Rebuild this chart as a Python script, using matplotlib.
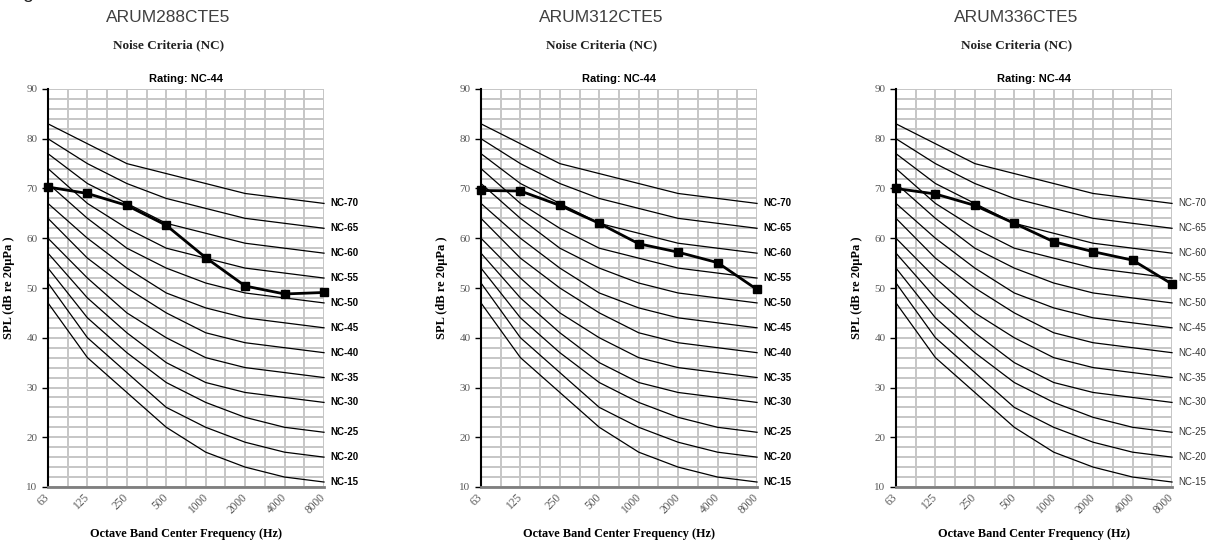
import matplotlib
matplotlib.use("Agg")
import matplotlib.pyplot as plt
import numpy as np

# ---- data ----
freq_labels = ["63", "125", "250", "500", "1000", "2000", "4000", "8000"]
nc_names = ["NC-15", "NC-20", "NC-25", "NC-30", "NC-35", "NC-40",
            "NC-45", "NC-50", "NC-55", "NC-60", "NC-65", "NC-70"]
nc_15 = [47, 36, 29, 22, 17, 14, 12, 11]
nc_20 = [51, 40, 33, 26, 22, 19, 17, 16]
nc_25 = [54, 44, 37, 31, 27, 24, 22, 21]
nc_30 = [57, 48, 41, 35, 31, 29, 28, 27]
nc_35 = [60, 52, 45, 40, 36, 34, 33, 32]
nc_40 = [64, 56, 50, 45, 41, 39, 38, 37]
nc_45 = [67, 60, 54, 49, 46, 44, 43, 42]
nc_50 = [71, 64, 58, 54, 51, 49, 48, 47]
nc_55 = [74, 67, 62, 58, 56, 54, 53, 52]
nc_60 = [77, 71, 67, 63, 61, 59, 58, 57]
nc_65 = [80, 75, 71, 68, 66, 64, 63, 62]
nc_70 = [83, 79, 75, 73, 71, 69, 68, 67]
nc_curves = [nc_15, nc_20, nc_25, nc_30, nc_35, nc_40,
             nc_45, nc_50, nc_55, nc_60, nc_65, nc_70]

models = ["ARUM288CTE5", "ARUM312CTE5", "ARUM336CTE5"]
spl_288 = [70.3, 69.0, 66.6, 62.6, 56.1, 50.4, 48.8, 49.1]
spl_312 = [69.6, 69.5, 66.6, 63.0, 58.9, 57.2, 55.1, 49.7]
spl_336 = [70.0, 68.9, 66.6, 63.0, 59.3, 57.3, 55.6, 50.8]
spl_series = [spl_288, spl_312, spl_336]
ratings = ["Rating: NC-44", "Rating: NC-44", "Rating: NC-44"]

# ---- layout ----
W, H = 1207, 542
fig = plt.figure(figsize=(W / 100, H / 100), dpi=100)

SERIF = "Liberation Serif"
SANS = "Liberation Sans"

ax_left_px = [48, 481, 896]
ax_w_px = 276
ax_top_px, ax_bot_px = 89, 487
label_bold = [True, True, False]

x = np.arange(len(freq_labels))

for i in range(3):
    l = ax_left_px[i] / W
    b = (H - ax_bot_px) / H
    w = ax_w_px / W
    h = (ax_bot_px - ax_top_px) / H
    ax = fig.add_axes([l, b, w, h])
    ax.set_xlim(0, 7)
    ax.set_ylim(10, 90)

    # grid
    ax.set_yticks(np.arange(10, 91, 10))
    ax.set_yticks(np.arange(10, 91, 2), minor=True)
    ax.set_xticks(x)
    ax.set_xticks(np.arange(0, 7.01, 0.5), minor=True)
    ax.grid(which="both", color="#c6c6c6", linewidth=1.4, zorder=0)
    ax.set_axisbelow(True)

    for s in ["top", "right"]:
        ax.spines[s].set_visible(False)
    ax.spines["left"].set_color("black")
    ax.spines["left"].set_linewidth(1.5)
    ax.spines["bottom"].set_color("#7f7f7f")
    ax.spines["bottom"].set_linewidth(2.0)

    ax.tick_params(axis="y", which="major", direction="out", length=4,
                   width=1, color="black", labelsize=8, labelcolor="#595959")
    ax.tick_params(axis="y", which="minor", length=0)
    ax.tick_params(axis="x", which="both", length=0)
    ax.set_yticklabels([str(v) for v in range(10, 91, 10)], family=SERIF)
    ax.set_xticklabels(freq_labels, family=SERIF, fontsize=8.3,
                       color="#595959", rotation=45, ha="right",
                       va="center", rotation_mode="anchor")
    ax.tick_params(axis="x", pad=6)

    # NC curves
    for name, vals in zip(nc_names, nc_curves):
        ax.plot(x, vals, color="black", linewidth=0.9, zorder=2,
                clip_on=False)
        ax.annotate(name, xy=(7, vals[-1]), xytext=(4.3, 0),
                    textcoords="offset points", va="center", ha="left",
                    family=SANS, fontsize=7.0,
                    fontweight="bold" if label_bold[i] else "normal",
                    color="black" if label_bold[i] else "#333333",
                    annotation_clip=False)

    # measured
    ax.plot(x, spl_series[i], color="black", linewidth=2.0, marker="s",
            markersize=5.5, zorder=4, clip_on=False)

    # texts
    cx = (ax_left_px[i] + ax_w_px / 2) / W
    fig.text(cx - 18 / W, 1 - 17 / H, models[i], ha="center", va="center",
             family=SANS, fontsize=12.5, color="#404040")
    fig.text(cx - 17 / W, 1 - 45 / H, "Noise Criteria (NC)", ha="center",
             va="center", family=SERIF, fontsize=9.5, fontweight="bold",
             color="#222222")
    ax.set_title(ratings[i], family=SANS, fontsize=8, fontweight="bold",
                 pad=5)
    ax.set_xlabel("Octave Band Center Frequency (Hz)", family=SERIF,
                  fontsize=8.8, fontweight="bold", labelpad=9)
    ax.set_ylabel("SPL (dB re 20μPa )", family=SERIF, fontsize=9,
                  fontweight="bold", labelpad=8)

# clipped glyph at the very top-left of the source image
fig.text(22 / W, 1 + 6 / H, "g", ha="left", va="center", family=SANS,
         fontsize=14, color="#222222")

fig.savefig("out.png", dpi=100)
